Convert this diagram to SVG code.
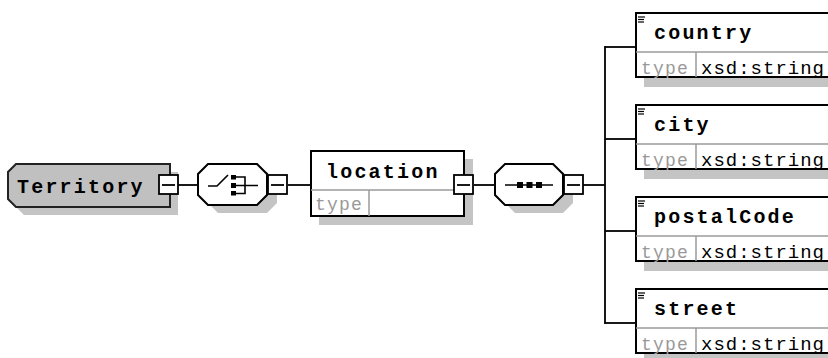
<svg xmlns="http://www.w3.org/2000/svg" width="828" height="358" viewBox="0 0 828 358">
<style>
.bg{fill:#fff}
.sh{fill:#c4c4c4;stroke:none}
.box{fill:#fff;stroke:#000;stroke-width:2}
.gbox{fill:#c0c0c0;stroke:#222;stroke-width:2}
.div{stroke:#9a9a9a;stroke-width:1.5;fill:none}
.con{stroke:#000;stroke-width:1.8;fill:none}
.minus{fill:#fff;stroke:#000;stroke-width:1.8}
.mline{stroke:#000;stroke-width:1.8}
.ico{stroke:#000;stroke-width:1.6;fill:none}
.dot{fill:#000}
.title{font-family:"Liberation Mono","DejaVu Sans Mono",monospace;font-weight:bold;font-size:20px;letter-spacing:2.2px;fill:#000}
.lbl{font-family:"Liberation Mono","DejaVu Sans Mono",monospace;font-size:19px;letter-spacing:1px;fill:#000}
.typ{font-family:"Liberation Mono","DejaVu Sans Mono",monospace;font-size:18px;letter-spacing:1.2px;fill:#999}
.mark{stroke:#000;stroke-width:1.2}
</style>
<rect class="bg" x="0" y="0" width="828" height="358"/>

<g id="connectors">
<line class="con" x1="178" y1="185" x2="199" y2="185"/>
<line class="con" x1="288" y1="185" x2="311" y2="185"/>
<line class="con" x1="474" y1="185" x2="495" y2="185"/>
<line class="con" x1="583" y1="185" x2="605" y2="185"/>
<line class="con" x1="605" y1="46" x2="605" y2="324"/>
<line class="con" x1="605" y1="47" x2="636" y2="47"/>
<line class="con" x1="605" y1="139" x2="636" y2="139"/>
<line class="con" x1="605" y1="231" x2="636" y2="231"/>
<line class="con" x1="605" y1="323" x2="636" y2="323"/>
</g>

<g id="Territory">
<path class="sh" d="M24,172 H178 V215 H24 L16,207 V180 Z"/>
<path class="gbox" d="M16,164 H170 V207 H16 L8,199 V172 Z"/>
<text class="title" x="17" y="193">Territory</text>
<rect class="minus" x="159" y="175" width="19" height="19"/>
<line class="mline" x1="162" y1="185" x2="175" y2="185"/>
</g>

<g id="choice">
<path class="sh" d="M218,172 H267 L277,182 V203 L267,213 H218 L208,203 V182 Z"/>
<path class="box" d="M208,164 H257 L267,174 V195 L257,205 H208 L198,195 V174 Z"/>
<polyline class="ico" points="208,186 217,186 228,175"/>
<rect class="dot" x="231" y="175" width="5" height="4.5"/>
<rect class="dot" x="231" y="183" width="5" height="5"/>
<rect class="dot" x="231" y="191" width="5" height="4.5"/>
<path class="ico" d="M236,177 H245 V193.5 H236 M236,185.5 H258"/>
<rect class="minus" x="268" y="175" width="19" height="19"/>
<line class="mline" x1="271" y1="185" x2="284" y2="185"/>
</g>

<g id="location">
<rect class="sh" x="319" y="159" width="154" height="66"/>
<rect class="box" x="311" y="151" width="153" height="65"/>
<line class="div" x1="311" y1="190" x2="464" y2="190"/>
<line class="div" x1="369" y1="190" x2="369" y2="216"/>
<text class="title" x="326" y="178">location</text>
<text class="typ" x="315" y="210">type</text>
<rect class="minus" x="454" y="175" width="19" height="19"/>
<line class="mline" x1="457" y1="185" x2="470" y2="185"/>
</g>

<g id="sequence">
<path class="sh" d="M515,172 H563 L573,182 V203 L563,213 H515 L505,203 V182 Z"/>
<path class="box" d="M505,164 H553 L563,174 V195 L553,205 H505 L495,195 V174 Z"/>
<line class="ico" x1="505" y1="185" x2="553" y2="185"/>
<rect class="dot" x="517" y="182" width="6" height="6"/>
<rect class="dot" x="526.5" y="182" width="6" height="6"/>
<rect class="dot" x="536" y="182" width="6" height="6"/>
<rect class="minus" x="564" y="175" width="19" height="19"/>
<line class="mline" x1="567" y1="185" x2="580" y2="185"/>
</g>

<g id="country">
<rect class="sh" x="644" y="21" width="200" height="66"/>
<rect class="box" x="636" y="13" width="200" height="64"/>
<line class="div" x1="636" y1="52" x2="828" y2="52"/>
<line class="div" x1="696" y1="52" x2="696" y2="77"/>
<line class="mark" x1="638" y1="17" x2="645" y2="17"/>
<line class="mark" x1="638" y1="19.5" x2="644" y2="19.5"/>
<line class="mark" x1="638" y1="22" x2="644" y2="22"/>
<text class="title" x="654" y="39">country</text>
<text class="typ" x="641" y="74">type</text>
<text class="lbl" x="701" y="74">xsd:string</text>
</g>

<g id="city">
<rect class="sh" x="644" y="113" width="200" height="66"/>
<rect class="box" x="636" y="105" width="200" height="64"/>
<line class="div" x1="636" y1="144" x2="828" y2="144"/>
<line class="div" x1="696" y1="144" x2="696" y2="169"/>
<line class="mark" x1="638" y1="109" x2="645" y2="109"/>
<line class="mark" x1="638" y1="111.5" x2="644" y2="111.5"/>
<line class="mark" x1="638" y1="114" x2="644" y2="114"/>
<text class="title" x="654" y="131">city</text>
<text class="typ" x="641" y="166">type</text>
<text class="lbl" x="701" y="166">xsd:string</text>
</g>

<g id="postalCode">
<rect class="sh" x="644" y="205" width="200" height="66"/>
<rect class="box" x="636" y="197" width="200" height="64"/>
<line class="div" x1="636" y1="236" x2="828" y2="236"/>
<line class="div" x1="696" y1="236" x2="696" y2="261"/>
<line class="mark" x1="638" y1="201" x2="645" y2="201"/>
<line class="mark" x1="638" y1="203.5" x2="644" y2="203.5"/>
<line class="mark" x1="638" y1="206" x2="644" y2="206"/>
<text class="title" x="654" y="223">postalCode</text>
<text class="typ" x="641" y="258">type</text>
<text class="lbl" x="701" y="258">xsd:string</text>
</g>

<g id="street">
<rect class="sh" x="644" y="297" width="200" height="66"/>
<rect class="box" x="636" y="289" width="200" height="64"/>
<line class="div" x1="636" y1="328" x2="828" y2="328"/>
<line class="div" x1="696" y1="328" x2="696" y2="353"/>
<line class="mark" x1="638" y1="293" x2="645" y2="293"/>
<line class="mark" x1="638" y1="295.5" x2="644" y2="295.5"/>
<line class="mark" x1="638" y1="298" x2="644" y2="298"/>
<text class="title" x="654" y="315">street</text>
<text class="typ" x="641" y="350">type</text>
<text class="lbl" x="701" y="350">xsd:string</text>
</g>
</svg>
